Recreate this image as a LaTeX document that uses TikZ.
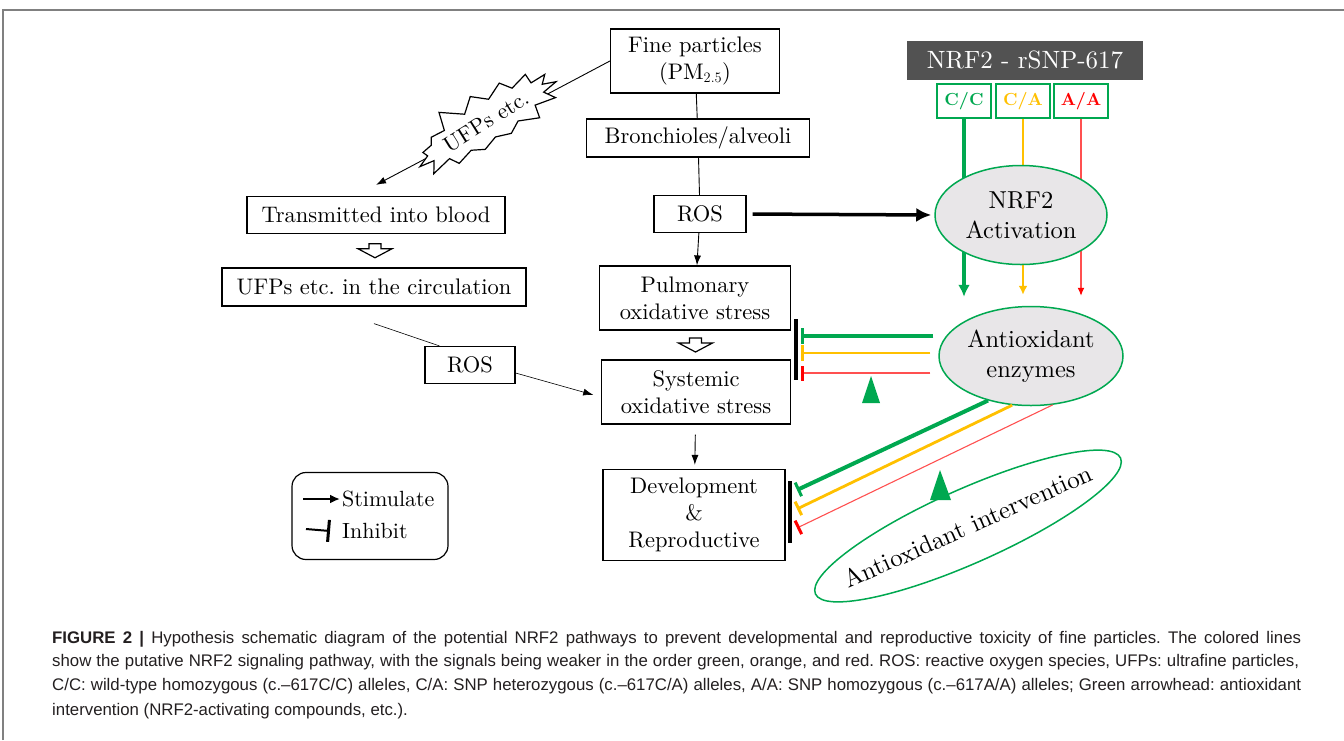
\documentclass[tikz,border=0pt]{standalone}
\usepackage{amsmath}
\usepackage{fontspec}
\setmainfont{lmroman10-regular.otf}[BoldFont=lmroman10-bold.otf, ItalicFont=lmroman10-italic.otf]
\newfontfamily\capfont{Liberation Sans}
\usetikzlibrary{arrows.meta,calc,shapes.geometric,shapes.symbols,backgrounds}
\definecolor{nrfgreen}{RGB}{0,168,80}
\definecolor{nrforange}{RGB}{255,192,0}
\definecolor{nrfred}{RGB}{255,0,0}
\definecolor{nrfpink}{RGB}{255,80,80}
\definecolor{snpgray}{RGB}{82,82,82}
\definecolor{ovalgray}{RGB}{232,230,232}
\definecolor{captext}{RGB}{35,31,32}
\tikzset{hollowdown/.pic={
  \draw[line width=1.2pt, fill=white] (-6,-7) -- (6,-7) -- (6,-2) -- (17,-2)
    -- (0,7) -- (-17,-2) -- (-6,-2) -- cycle;}}
\begin{document}
\frenchspacing
\begin{tikzpicture}[x=1pt, y=-1pt,
  thinarrow/.style={line width=0.9pt, -{Latex[length=10pt,width=7pt]}},
  box/.style={draw, line width=1.2pt, align=center, inner sep=0pt,
    font=\fontsize{22.5}{27}\selectfont},
  oval/.style={ellipse, draw=nrfgreen, line width=1.5pt, fill=ovalgray,
    align=center, inner sep=0pt, font=\fontsize{24.5}{30}\selectfont},
  geno/.style={draw=nrfgreen, line width=1.2pt, fill=white, minimum width=54pt,
    minimum height=34pt, inner sep=0pt, font=\fontsize{17.5}{20}\selectfont\bfseries},
  gline/.style={nrfgreen, line width=4pt},
  oline/.style={nrforange, line width=2.8pt},
  rline/.style={nrfpink, line width=1.1pt},
  capline/.style={anchor=west, inner sep=0pt, text=captext,
    font=\capfont\fontsize{16.8}{18}\selectfont}]
\useasboundingbox (0,0) rectangle (1344,740);
\draw[gray, line width=1.5pt] (3,740) -- (3,10) -- (1344,10);

% main column
\node[box, minimum width=169pt, minimum height=64pt] (fine) at (695,61) {Fine particles\\(PM$_{2.5}$)};
\node[box, minimum width=223pt, minimum height=38pt] (bron) at (698,138) {Bronchioles/alveoli};
\node[box, minimum width=92pt, minimum height=37pt] (ros) at (700,214) {ROS};
\node[box, minimum width=191pt, minimum height=64pt] (pulm) at (695,298) {Pulmonary\\oxidative stress};
\node[box, minimum width=189pt, minimum height=64pt] (syst) at (696,392) {Systemic\\oxidative stress};
\node[box, minimum width=182pt, minimum height=91pt] (devel) at (694,515) {Development\\\&\\Reproductive};

% blood column
\node[box, minimum width=258pt, minimum height=37pt] (blood) at (376,215) {Transmitted into blood};
\node[box, minimum width=304pt, minimum height=38pt] (circ) at (374,287) {UFPs etc. in the circulation};
\node[box, minimum width=90pt, minimum height=37pt] (rosb) at (470,365) {ROS};

% genotypes
\node[fill=snpgray, text=white, minimum width=236pt, minimum height=39pt, inner sep=0pt,
  font=\fontsize{25}{28}\selectfont] (snp) at (1025,60) {NRF2 - rSNP-617};
\node[geno, text=nrfgreen] (cc) at (964,101) {C/C};
\node[geno, text=nrforange] (ca) at (1023,101) {C/A};
\node[geno, text=nrfred] (aa) at (1081,101) {A/A};

\node[oval, minimum width=172pt, minimum height=99pt] (act) at (1021,215) {NRF2\\Activation};
\node[oval, minimum width=184pt, minimum height=99pt] (enz) at (1031,356) {Antioxidant\\enzymes};
\node[ellipse, draw=nrfgreen, line width=1.5pt, minimum width=334pt, minimum height=74pt,
  inner sep=0pt, rotate=24, font=\fontsize{25}{30}\selectfont] (interv) at (968,526)
  {\makebox[200pt]{Antioxidant intervention}};

\begin{scope}[on background layer]
  \draw[gline, -{Latex[length=12pt,width=12pt]}, shorten >=9pt] (cc.south) -- (cc.south |- enz.north);
  \draw[oline, -{Latex[length=9pt,width=9pt]}, shorten >=11pt] (ca.south) -- (ca.south |- enz.north);
  \draw[rline, -{Latex[length=8pt,width=7pt,color=nrfred]}, shorten >=10pt] (aa.south) -- (aa.south |- enz.north);
\end{scope}

% stimulate
\path [-] (fine) edge[line width=0.9pt] (bron);
\path [-] (bron) edge[line width=0.9pt] (ros);
\path [->] (ros) edge[thinarrow] (pulm);
\path [->] (syst) edge[thinarrow, shorten <=10pt, shorten >=4pt] (devel);
\path [->] (ros.east) edge[line width=3.5pt, -{Latex[length=15pt,width=14pt]}, shorten <=6pt, shorten >=3pt] (act.west);
\path [-] ([yshift=-17pt]circ.south) edge[line width=0.6pt] ([xshift=15pt]rosb.north west);
\path [->] ([yshift=-8pt]rosb.east) edge[thinarrow, line width=0.6pt, shorten >=8pt] ([yshift=-5pt]syst.west);
\draw[thinarrow] (fine.west) -- node[starburst, draw, line width=1.2pt, fill=white, pos=0.53,
  yshift=5pt, rotate=32, starburst points=15, starburst point height=19pt, random starburst=5,
  minimum width=150pt, minimum height=74pt, inner sep=0pt,
  font=\fontsize{22}{25}\selectfont] (ufp) {UFPs etc.} ([yshift=11pt]blood.north);
\pic at ($(blood.south)!0.5!(circ.north)$) {hollowdown};
\pic at ($(pulm.south)!0.5!(syst.north)$) {hollowdown};

% inhibit
\coordinate (g1) at (801,336);
\coordinate (o1) at (801,353);
\coordinate (r1) at (801,373);
\coordinate (g2) at (797,490);
\coordinate (o2) at (797,509);
\coordinate (r2) at (797,528);
\draw[line width=4pt] (796,319) -- (796,380);
\draw[line width=4pt] (790,481) -- (790,543);
\draw[gline, -{Bar[width=16pt,line width=3pt]}] ([xshift=-5pt]enz.west |- g1) -- (g1);
\draw[oline, -{Bar[width=16pt,line width=3pt]}] ([xshift=-8pt]enz.west |- o1) -- (o1);
\draw[rline, -{Bar[width=15pt,line width=3pt,color=nrfred]}] ([xshift=-8pt]enz.west |- r1) -- (r1);
\draw[gline, -{Bar[width=15pt,line width=3pt]}] (enz.226) -- (g2);
\draw[oline, -{Bar[width=15pt,line width=3pt]}] (enz.249) -- (o2);
\draw[rline, -{Bar[width=15pt,line width=3pt,color=nrfred]}] (enz.294) -- (r2);
\fill[nrfgreen] (862,403) -- (871,376) -- (880,403) -- cycle;
\fill[nrfgreen] (930,500) -- (940,470) -- (951,500) -- cycle;

% legend
\node[draw, rounded corners=14pt, line width=1.2pt, minimum width=156pt, minimum height=87pt] (legend) at (370,516) {};
\node[anchor=west, inner sep=2pt, font=\fontsize{22}{26}\selectfont] (stim) at (340,499) {Stimulate};
\node[anchor=west, inner sep=2pt, font=\fontsize{22}{26}\selectfont] (inhib) at (340,531) {Inhibit};
\coordinate (s0) at (303,499);
\coordinate (i0) at (306,529);
\draw[line width=2pt, -{Latex[length=10pt,width=9pt]}] (s0) -- (stim.west);
\draw[line width=2pt, -{Bar[width=22pt,line width=3pt]}] (i0) -- ([xshift=-10pt]inhib.west);

% caption
\node[capline] (cap1) at (52,639) {\makebox[1249pt][s]{\textbf{FIGURE 2 |} Hypothesis schematic diagram of the potential NRF2 pathways to prevent developmental and reproductive toxicity of fine particles. The colored lines}};
\node[capline] (cap2) at (52,662) {\makebox[1247pt][s]{show the putative NRF2 signaling pathway, with the signals being weaker in the order green, orange, and red. ROS: reactive oxygen species, UFPs: ultrafine particles,}};
\node[capline] (cap3) at (52,686) {\makebox[1249pt][s]{C/C: wild-type homozygous (c.–617C/C) alleles, C/A: SNP heterozygous (c.–617C/A) alleles, A/A: SNP homozygous (c.–617A/A) alleles; Green arrowhead: antioxidant}};
\node[capline] (cap4) at (52,711) {intervention (NRF2-activating compounds, etc.).};
\end{tikzpicture}
\end{document}
